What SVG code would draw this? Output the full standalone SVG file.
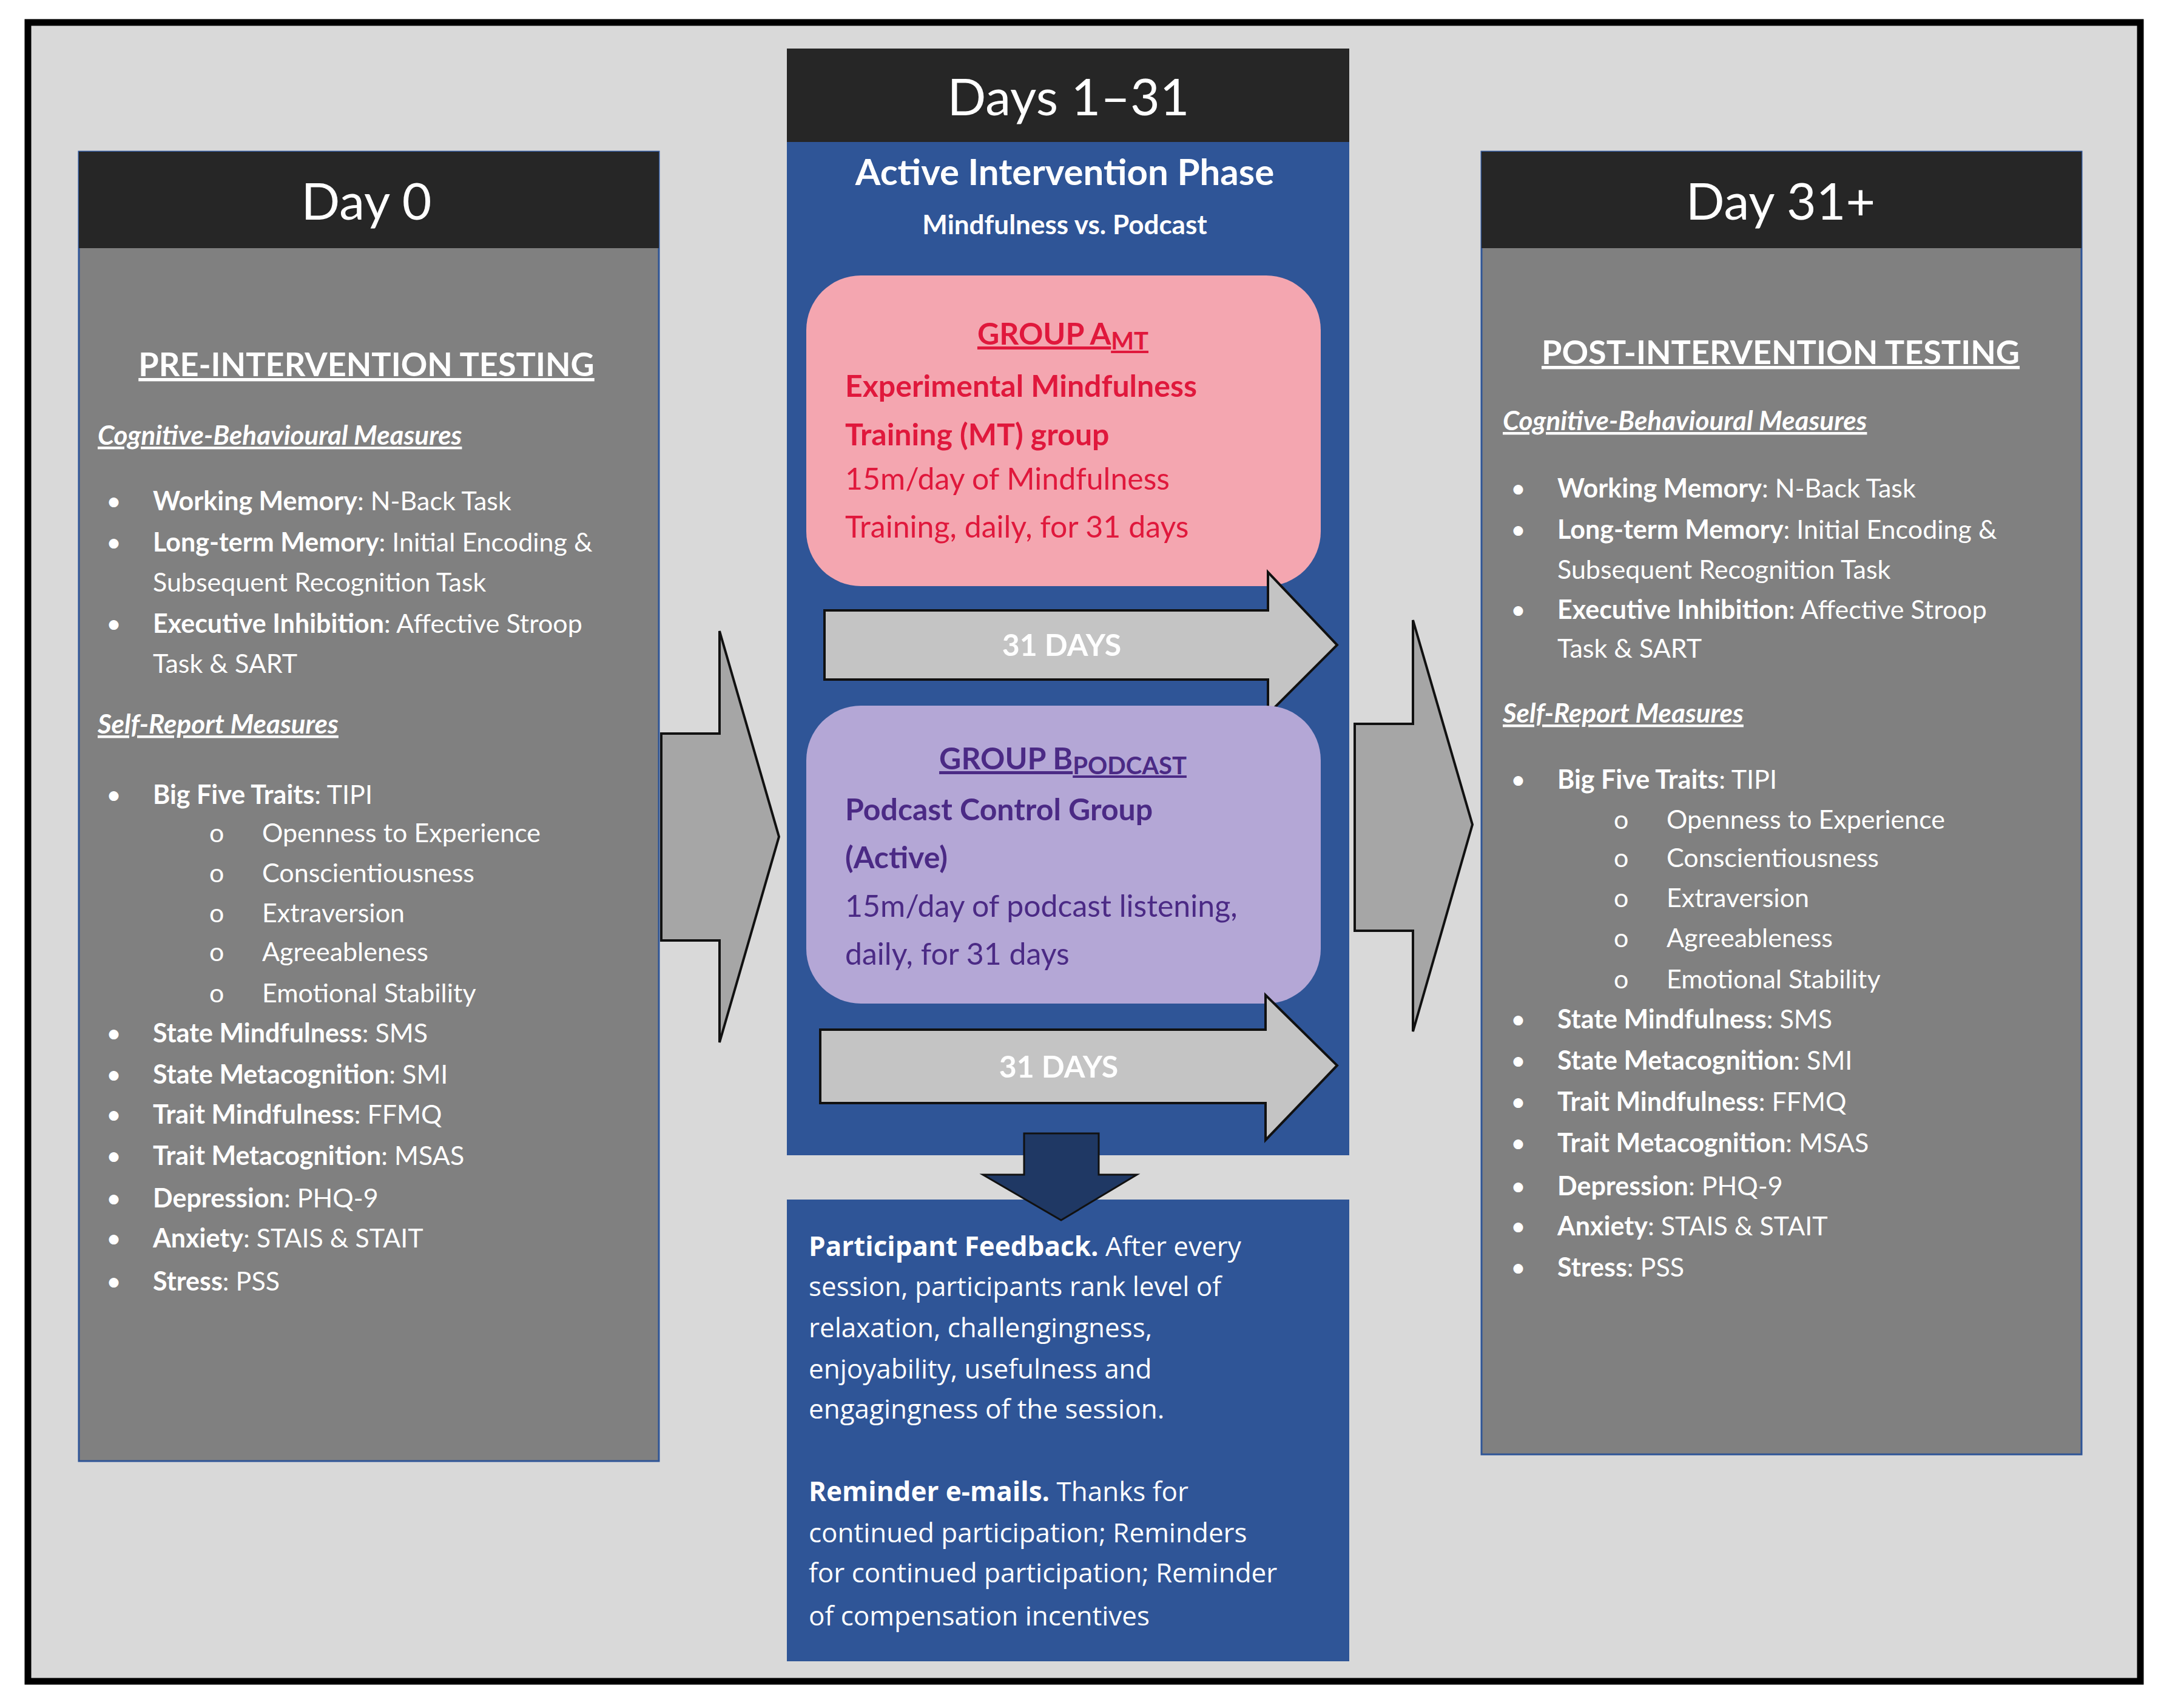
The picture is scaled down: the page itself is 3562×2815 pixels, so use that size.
<svg xmlns="http://www.w3.org/2000/svg" width="3562" height="2815" viewBox="0 0 3562 2815">
<style>
text{font-family:Lato,"Noto Sans","Liberation Sans",sans-serif}
.hd{fill:#fff;font-size:84px;text-anchor:middle}
.t{fill:#fff;font-size:43px}
.b{font-weight:bold}
.ttl{fill:#fff;font-size:54px;font-weight:bold;text-anchor:middle;text-decoration:underline}
.sec{fill:#fff;font-size:44px;font-weight:bold;font-style:italic;text-decoration:underline}
.fb{fill:#fff;font-size:44px;font-family:"Open Sans","Noto Sans",sans-serif}
.ga{fill:#e0183c;font-size:50px}
.gb{fill:#4b2a85;font-size:50px}
.days{fill:#fff;font-size:50px;font-weight:bold;text-anchor:middle}
.arr{fill:#c4c4c4;stroke:#111;stroke-width:4}
.big{fill:#a6a6a6;stroke:#111;stroke-width:4}
</style>
<rect x="0" y="0" width="3562" height="2815" fill="#fff"/>
<rect x="46" y="37" width="3482" height="2734" fill="#d9d9d9" stroke="#000" stroke-width="11"/>
<g id="connectors">
<polygon class="big" points="1090,1209 1186,1209 1186,1040 1284,1379 1186,1718 1186,1550 1090,1550"/>
<polygon class="big" points="2233,1193 2329,1193 2329,1022 2427,1359 2329,1700 2329,1534 2233,1534"/>
</g>
<g id="day0">
<rect x="130" y="250" width="956" height="2158" fill="#808080" stroke="#2f5597" stroke-width="3"/>
<rect x="130" y="250" width="956" height="159" fill="#262626"/>
<text class="hd" x="604" y="362">Day 0</text>
<text class="ttl" x="604" y="620">PRE-INTERVENTION TESTING</text>
<text class="sec" x="161" y="733">Cognitive-Behavioural Measures</text>
<g class="t">
<text x="175" y="841">•</text><text x="252" y="841"><tspan class="b">Working Memory</tspan>: N-Back Task</text>
<text x="175" y="909">•</text><text x="252" y="909"><tspan class="b">Long-term Memory</tspan>: Initial Encoding &amp;</text>
<text x="252" y="975">Subsequent Recognition Task</text>
<text x="175" y="1043">•</text><text x="252" y="1043"><tspan class="b">Executive Inhibition</tspan>: Affective Stroop</text>
<text x="252" y="1109">Task &amp; SART</text>
</g>
<text class="sec" x="161" y="1209">Self-Report Measures</text>
<g class="t">
<text x="175" y="1325">•</text><text x="252" y="1325"><tspan class="b">Big Five Traits</tspan>: TIPI</text>
<text x="345" y="1388">o</text><text x="432" y="1388">Openness to Experience</text>
<text x="345" y="1454">o</text><text x="432" y="1454">Conscientiousness</text>
<text x="345" y="1520">o</text><text x="432" y="1520">Extraversion</text>
<text x="345" y="1584">o</text><text x="432" y="1584">Agreeableness</text>
<text x="345" y="1652">o</text><text x="432" y="1652">Emotional Stability</text>
<text x="175" y="1718">•</text><text x="252" y="1718"><tspan class="b">State Mindfulness</tspan>:  SMS</text>
<text x="175" y="1786">•</text><text x="252" y="1786"><tspan class="b">State Metacognition</tspan>: SMI</text>
<text x="175" y="1852">•</text><text x="252" y="1852"><tspan class="b">Trait Mindfulness</tspan>: FFMQ</text>
<text x="175" y="1920">•</text><text x="252" y="1920"><tspan class="b">Trait Metacognition</tspan>: MSAS</text>
<text x="175" y="1990">•</text><text x="252" y="1990"><tspan class="b">Depression</tspan>: PHQ-9</text>
<text x="175" y="2056">•</text><text x="252" y="2056"><tspan class="b">Anxiety</tspan>: STAIS &amp; STAIT</text>
<text x="175" y="2127">•</text><text x="252" y="2127"><tspan class="b">Stress</tspan>: PSS</text>
</g>
</g>
<g id="intervention">
<rect x="1297" y="80" width="927" height="1824" fill="#2f5597"/>
<rect x="1297" y="80" width="927" height="154" fill="#262626"/>
<text class="hd" x="1761" y="190">Days 1–31</text>
<text x="1755" y="305" fill="#fff" font-size="60" font-weight="bold" text-anchor="middle">Active Intervention Phase</text>
<text x="1755" y="386" fill="#fff" font-size="44" font-weight="bold" text-anchor="middle">Mindfulness vs. Podcast</text>
</g>
<g id="groupA">
<rect x="1329" y="454" width="848" height="512" rx="90" fill="#f4a6b0"/>
<text class="ga b" x="1752" y="568" font-size="58" text-anchor="middle" text-decoration="underline">GROUP A<tspan font-size="40" dy="8">MT</tspan></text>
<text class="ga b" x="1393" y="654">Experimental  Mindfulness</text>
<text class="ga b" x="1393" y="734">Training (MT) group</text>
<text class="ga" x="1393" y="807">15m/day  of Mindfulness</text>
<text class="ga" x="1393" y="886">Training, daily, for 31 days</text>
</g>
<g id="arrowA">
<polygon class="arr" points="1359,1006 2090,1006 2090,943 2204,1063 2090,1177 2090,1120 1359,1120"/>
<text class="days" x="1750" y="1081">31 DAYS</text>
</g>
<g id="groupB">
<rect x="1329" y="1163" width="848" height="491" rx="90" fill="#b4a7d6"/>
<text class="gb b" x="1752" y="1268" font-size="58" text-anchor="middle" text-decoration="underline">GROUP B<tspan font-size="40" dy="8">PODCAST</tspan></text>
<text class="gb b" x="1393" y="1352">Podcast Control Group</text>
<text class="gb b" x="1393" y="1431">(Active)</text>
<text class="gb" x="1393" y="1511">15m/day  of podcast listening,</text>
<text class="gb" x="1393" y="1590">daily,  for 31 days</text>
</g>
<g id="arrowB">
<polygon class="arr" points="1352,1697 2086,1697 2086,1640 2204,1756 2086,1879 2086,1818 1352,1818"/>
<text class="days" x="1745" y="1776">31 DAYS</text>
</g>
<g id="feedback">
<rect x="1297" y="1977" width="927" height="761" fill="#2f5597"/>
<polygon points="1688,1868 1811,1868 1811,1936 1874,1936 1749,2011 1620,1936 1688,1936" fill="#1f3864" stroke="#111" stroke-width="3"/>
<text class="fb" x="1333" y="2070"><tspan font-weight="bold">Participant Feedback.</tspan> After every</text>
<text class="fb" x="1333" y="2136">session, participants rank level of</text>
<text class="fb" x="1333" y="2204">relaxation, challengingness,</text>
<text class="fb" x="1333" y="2272">enjoyability, usefulness and</text>
<text class="fb" x="1333" y="2338">engagingness of the session.</text>
<text class="fb" x="1333" y="2474"><tspan font-weight="bold">Reminder e-mails.</tspan> Thanks for</text>
<text class="fb" x="1333" y="2542">continued participation; Reminders</text>
<text class="fb" x="1333" y="2608">for continued participation; Reminder</text>
<text class="fb" x="1333" y="2679">of compensation incentives</text>
</g>
<g id="day31">
<rect x="2442" y="250" width="989" height="2147" fill="#808080" stroke="#2f5597" stroke-width="3"/>
<rect x="2442" y="250" width="989" height="159" fill="#262626"/>
<text class="hd" x="2935" y="362">Day 31+</text>
<text class="ttl" x="2935" y="600">POST-INTERVENTION TESTING</text>
<text class="sec" x="2477" y="709">Cognitive-Behavioural Measures</text>
<g class="t">
<text x="2490" y="820">•</text><text x="2567" y="820"><tspan class="b">Working Memory</tspan>: N-Back Task</text>
<text x="2490" y="888">•</text><text x="2567" y="888"><tspan class="b">Long-term Memory</tspan>: Initial Encoding &amp;</text>
<text x="2567" y="954">Subsequent Recognition Task</text>
<text x="2490" y="1020">•</text><text x="2567" y="1020"><tspan class="b">Executive Inhibition</tspan>: Affective Stroop</text>
<text x="2567" y="1084">Task &amp; SART</text>
</g>
<text class="sec" x="2477" y="1191">Self-Report Measures</text>
<g class="t">
<text x="2490" y="1300">•</text><text x="2567" y="1300"><tspan class="b">Big Five Traits</tspan>: TIPI</text>
<text x="2660" y="1366">o</text><text x="2747" y="1366">Openness to Experience</text>
<text x="2660" y="1429">o</text><text x="2747" y="1429">Conscientiousness</text>
<text x="2660" y="1495">o</text><text x="2747" y="1495">Extraversion</text>
<text x="2660" y="1561">o</text><text x="2747" y="1561">Agreeableness</text>
<text x="2660" y="1629">o</text><text x="2747" y="1629">Emotional Stability</text>
<text x="2490" y="1695">•</text><text x="2567" y="1695"><tspan class="b">State Mindfulness</tspan>:  SMS</text>
<text x="2490" y="1763">•</text><text x="2567" y="1763"><tspan class="b">State Metacognition</tspan>: SMI</text>
<text x="2490" y="1831">•</text><text x="2567" y="1831"><tspan class="b">Trait Mindfulness</tspan>: FFMQ</text>
<text x="2490" y="1899">•</text><text x="2567" y="1899"><tspan class="b">Trait Metacognition</tspan>: MSAS</text>
<text x="2490" y="1970">•</text><text x="2567" y="1970"><tspan class="b">Depression</tspan>: PHQ-9</text>
<text x="2490" y="2036">•</text><text x="2567" y="2036"><tspan class="b">Anxiety</tspan>: STAIS &amp; STAIT</text>
<text x="2490" y="2104">•</text><text x="2567" y="2104"><tspan class="b">Stress</tspan>: PSS</text>
</g>
</g>
</svg>
